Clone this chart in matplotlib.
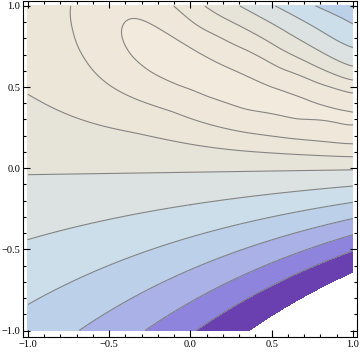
import numpy as np
import matplotlib
matplotlib.use("Agg")
import matplotlib.pyplot as plt

# ---- contour readings from the reference (x, y) for each level (upper half) ----
lvl3_x = [-0.45, -0.41, -0.35, -0.23, -0.08, 0.00, 0.06, 0.24, 0.55, 0.69, 0.85, 1.00,
          -0.37, -0.25, -0.08, 0.10, 0.34, 0.65, 1.00]
lvl3_y = [0.83, 0.91, 0.93, 0.88, 0.79, 0.74, 0.71, 0.62, 0.50, 0.44, 0.395, 0.36,
          0.69, 0.59, 0.50, 0.43, 0.345, 0.28, 0.22]
lvl2_x = [-0.72, -0.71, -0.64, -0.51, -0.37, -0.11, 0.34, 0.65, 1.00,
          -0.11, 0.00, 0.06, 0.26, 0.55, 0.78, 1.00]
lvl2_y = [1.00, 0.85, 0.67, 0.52, 0.44, 0.36, 0.22, 0.18, 0.15,
          1.00, 0.90, 0.85, 0.75, 0.59, 0.51, 0.44]
lvl1_x = [-1.00, -0.70, -0.33, 0.34, 0.65, 1.00, 0.08, 0.31, 0.55, 0.78, 1.00]
lvl1_y = [0.46, 0.31, 0.22, 0.105, 0.085, 0.07, 1.00, 0.88, 0.73, 0.62, 0.53]
lvl0_x = [0.30, 0.55, 0.78, 1.00]
lvl0_y = [1.00, 0.87, 0.73, 0.60]
lvlm1_x = [0.52, 0.75, 1.00]
lvlm1_y = [1.00, 0.88, 0.75]
lvlm2_x = [0.78, 1.00]
lvlm2_y = [1.00, 0.88]
# estimated values off the lines (ridge crest, upper-left edge, corners)
extra_x = [-0.10, -1.00, -1.00, 1.00, -0.60, -0.45, -0.20]
extra_y = [0.66, 0.75, 1.00, 1.00, 1.00, 1.00, 1.00]
extra_v = [3.45, 1.4, 1.7, -2.4, 2.3, 2.8, 2.4]
# the lower half follows value = scale0 * growth**x * (y - zero line)
zero_x = [-1.0, 1.0]
zero_y = [-0.04, -0.01]
growth = 2.0
scale0 = 5.0

edge_level = -6.3                    # below this the reference is left white
line_levels = [-5, -4, -3, -2, -1, 0, 1, 2, 3]
band_colors = ["#ffffff", "#6a3fb0", "#8e84de", "#a9b1e6", "#bcd0ea", "#cbdeea",
               "#dce2e2", "#e6e4d9", "#ece6d9", "#efe8da", "#f2eadc"]

groups = [(lvl3_x, lvl3_y, 3), (lvl2_x, lvl2_y, 2), (lvl1_x, lvl1_y, 1),
          (lvl0_x, lvl0_y, 0), (lvlm1_x, lvlm1_y, -1), (lvlm2_x, lvlm2_y, -2),
          (extra_x, extra_y, None)]
px, py, pv = [], [], []
for gx_, gy_, lv in groups:
    px += list(gx_); py += list(gy_)
    pv += list(extra_v) if lv is None else [lv] * len(gx_)
px = np.array(px); py = np.array(py); pv = np.array(pv, float)

def base(x, y):
    return scale0 * growth ** x * (y - np.interp(x, zero_x, zero_y))

ps = pv / base(px, py)               # shape factor at each reading
# the lower half keeps shape factor 1
ax_ = np.linspace(-1, 1, 9)
px = np.concatenate([px, ax_, ax_])
py = np.concatenate([py, np.full(9, -0.15), np.full(9, -0.6)])
ps = np.concatenate([ps, np.ones(18)])

def kern(r):
    with np.errstate(divide="ignore", invalid="ignore"):
        k = r * r * np.log(r)
    return np.nan_to_num(k)

n = len(px)
D = np.hypot(px[:, None] - px[None, :], py[:, None] - py[None, :])
K = kern(D) + 4e-2 * np.eye(n)
P = np.column_stack([np.ones(n), px, py])
A = np.zeros((n + 3, n + 3))
A[:n, :n] = K; A[:n, n:] = P; A[n:, :n] = P.T
sol = np.linalg.solve(A, np.concatenate([ps, np.zeros(3)]))
w, a = sol[:n], sol[n:]

gx = np.linspace(-1, 1, 401)
GX, GY = np.meshgrid(gx, gx)
R = np.hypot(GX.ravel()[:, None] - px[None, :], GY.ravel()[:, None] - py[None, :])
S = (kern(R) @ w + a[0] + a[1] * GX.ravel() + a[2] * GY.ravel()).reshape(GX.shape)
S = np.where(GY < -0.1, 1.0, np.where(GY < 0.0, 1.0 + (S - 1.0) * (GY + 0.1) / 0.1, S))
F = base(GX, GY) * S

fig = plt.figure(figsize=(3.6, 3.52), dpi=100)
ax = fig.add_axes([23 / 360, 15 / 352, 334 / 360, 336 / 352])
edges = [-1e3, edge_level] + line_levels + [1e3]
ax.contourf(GX, GY, F, levels=edges, colors=band_colors)
ax.contour(GX, GY, F, levels=line_levels, colors="#7a7a7a", linewidths=0.8,
           alpha=0.9, linestyles="solid")

ax.set_xlim(-1.03, 1.025)
ax.set_ylim(-1.04, 1.03)
ticks = [-1.0, -0.5, 0.0, 0.5, 1.0]
ax.set_xticks(ticks); ax.set_yticks(ticks)
ax.set_xticks(np.arange(-1.0, 1.01, 0.1), minor=True)
ax.set_yticks(np.arange(-1.0, 1.01, 0.1), minor=True)
labels = ["\u22121.0", "\u22120.5", "0.0", "0.5", "1.0"]
ax.set_xticklabels(labels, family="Liberation Serif", fontsize=7.5)
ax.set_yticklabels(labels, family="Liberation Serif", fontsize=7.5)
ax.tick_params(which="both", direction="in", top=True, right=True, width=0.8, pad=2)
ax.tick_params(which="major", length=5)
ax.tick_params(which="minor", length=2.5)
for s in ax.spines.values():
    s.set_linewidth(0.8)
fig.savefig("out.png", dpi=100)
